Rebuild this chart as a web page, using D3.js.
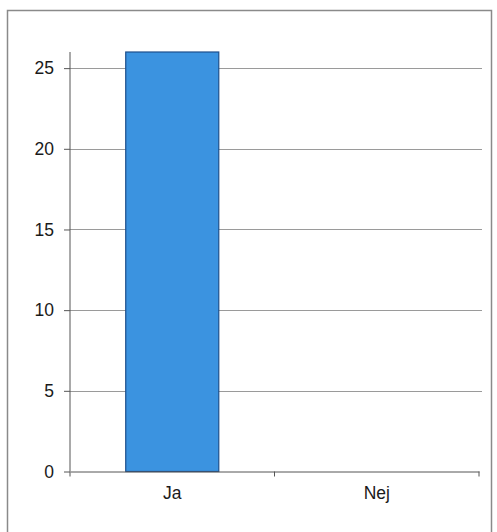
<!DOCTYPE html>
<html><head><meta charset="utf-8">
<script src="https://cdn.jsdelivr.net/npm/d3@7"></script>
<style>body{margin:0;background:#fff;}svg{display:block;}</style>
</head><body>
<svg id="c" width="497" height="532"></svg>
<script>
const categories = ["Ja", "Nej"];
const values = [26, 0];
const yTicks = [0, 5, 10, 15, 20, 25];

const svg = d3.select("#c");
svg.append("rect").attr("x", 7.5).attr("y", 10.5).attr("width", 484).attr("height", 540)
  .attr("fill", "#fff").attr("stroke", "#8a8a8a").attr("stroke-width", 1.5);

const pLeft = 70, pRight = 479, pTop = 52, pBottom = 471.5;
const x = d3.scaleBand().domain(categories).range([pLeft, pRight]).paddingInner(0).paddingOuter(0);
const y = d3.scaleLinear().domain([0, 26]).range([pBottom, pTop]);

// gridlines
svg.append("g").selectAll("line").data(yTicks.filter(d => d > 0)).join("line")
  .attr("x1", pLeft).attr("x2", pRight + 3)
  .attr("y1", d => Math.round(y(d)) + 0.5).attr("y2", d => Math.round(y(d)) + 0.5)
  .attr("stroke", "#9a9a9a").attr("stroke-width", 1);

// bars
const bw = x.bandwidth() * 0.455;
svg.append("g").selectAll("rect").data(categories.map((c, i) => ({c, v: values[i]})).filter(d => d.v > 0)).join("rect")
  .attr("x", d => x(d.c) + x.bandwidth() / 2 - bw / 2)
  .attr("y", d => y(d.v))
  .attr("width", bw)
  .attr("height", d => y(0) - y(d.v))
  .attr("fill", "#3b93e0")
  .attr("stroke", "#1d4f8c").attr("stroke-width", 1.2);

const font = "Liberation Sans, Arial, sans-serif";
// y axis
const ya = d3.axisLeft(y).tickValues(yTicks).tickSize(6).tickPadding(10);
const gy = svg.append("g").attr("transform", `translate(${pLeft},0)`).call(ya)
  .attr("font-size", null).attr("font-family", null);
gy.select(".domain").attr("stroke", "#555").attr("d", `M0,${pTop}V${pBottom}`);
gy.selectAll(".tick line").attr("stroke", "#555");
gy.selectAll("text").style("font-family", font).style("font-size", "17.5px").attr("fill", "#1a1a1a");

// x axis
const xa = d3.axisBottom(x).tickSize(0).tickPadding(15.5);
const gx = svg.append("g").attr("transform", `translate(0,${pBottom})`).call(xa)
  .attr("font-size", null).attr("font-family", null);
gx.select(".domain").attr("stroke", "#555");
gx.selectAll("text").style("font-family", font).style("font-size", "17.5px").attr("fill", "#1a1a1a");
// boundary ticks
const bounds = categories.map(c => x(c) + x.bandwidth()).concat([pLeft]);
gx.append("g").selectAll("line").data(bounds).join("line")
  .attr("x1", d => d).attr("x2", d => d).attr("y1", 0).attr("y2", 5)
  .attr("stroke", "#555");
</script>
</body></html>
